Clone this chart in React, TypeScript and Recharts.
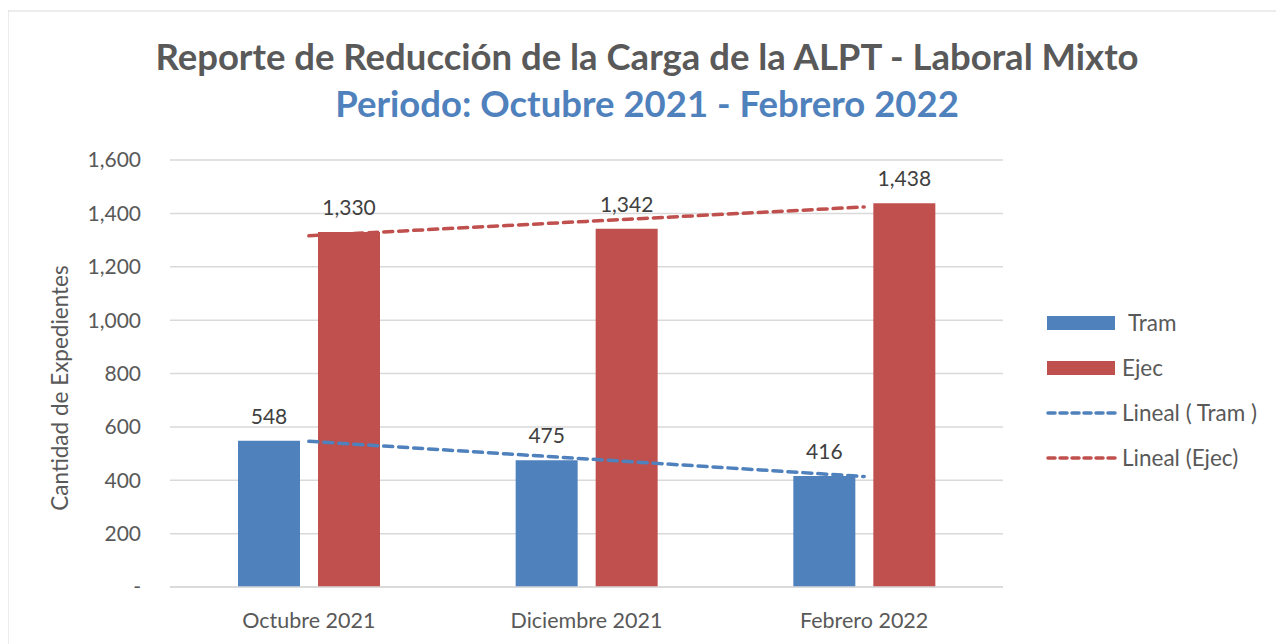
import React from "react";
import {
  ComposedChart,
  Bar,
  Line,
  XAxis,
  YAxis,
  CartesianGrid,
  LabelList,
} from "recharts";

const categories = ["Octubre 2021", "Diciembre 2021", "Febrero 2022"];
const tramValues = [548, 475, 416];
const ejecValues = [1330, 1342, 1438];
const tramTrend = [546, 480, 414];
const ejecTrend = [1316, 1370, 1424];
const yTicks = [0, 200, 400, 600, 800, 1000, 1200, 1400, 1600];

const titleText = "Reporte de Reducción de la Carga de la ALPT - Laboral Mixto";
const subtitleText = "Periodo: Octubre 2021 - Febrero 2022";

const BLUE = "#4F81BD";
const RED = "#C0504D";
const GRAY = "#595959";
const FONT = "Lato, 'Open Sans', sans-serif";

const data = categories.map((c, i) => ({
  name: c,
  Tram: tramValues[i],
  Ejec: ejecValues[i],
  tramTrend: tramTrend[i],
  ejecTrend: ejecTrend[i],
}));

const fmt = (v: number) => (v === 0 ? "-" : v.toLocaleString("en-US"));

const legendItems = [
  { label: "Tram", color: BLUE, type: "rect", indent: 6 },
  { label: "Ejec", color: RED, type: "rect", indent: 0 },
  { label: "Lineal ( Tram )", color: BLUE, type: "line", indent: 0 },
  { label: "Lineal (Ejec)", color: RED, type: "line", indent: 0 },
];

const LegendGroup = () => (
  <g transform="translate(1039, 315)">
    {legendItems.map((it, i) => {
      const y = i * 45;
      return (
        <g key={it.label}>
          {it.type === "rect" ? (
            <rect x={0} y={y - 7} width={68} height={14} fill={it.color} />
          ) : (
            <line
              x1={1}
              y1={y}
              x2={68}
              y2={y}
              stroke={it.color}
              strokeWidth={3.5}
              strokeDasharray="7 5"
              strokeLinecap="round"
            />
          )}
          <text
            x={75 + it.indent}
            y={y}
            dy="0.35em"
            fontSize={22.5}
            fill={GRAY}
            fontFamily={FONT}
          >
            {it.label}
          </text>
        </g>
      );
    })}
  </g>
);

export default function App() {
  return (
    <div style={{ position: "relative", width: 1276, height: 636, fontFamily: FONT }}>
      <ComposedChart
        width={1276}
        height={636}
        data={data}
        margin={{ top: 152, right: 281, bottom: 0, left: 0 }}
        barGap={18}
      >
        <rect x={0} y={3} width={1400} height={800} fill="none" stroke="#d9d9d9" strokeWidth={1} />
        <text
          x={639}
          y={49}
          dy="0.35em"
          textAnchor="middle"
          fontSize={36.5}
          fontWeight={700}
          fill={GRAY}
          fontFamily={FONT}
        >
          {titleText}
        </text>
        <text
          x={639}
          y={96}
          dy="0.35em"
          textAnchor="middle"
          fontSize={36.5}
          fontWeight={700}
          fill={BLUE}
          fontFamily={FONT}
        >
          {subtitleText}
        </text>
        <text
          x={52}
          y={380}
          dy="0.35em"
          textAnchor="middle"
          fontSize={22.5}
          fill={GRAY}
          fontFamily={FONT}
          transform="rotate(-90 52 380)"
        >
          Cantidad de Expedientes
        </text>
        <CartesianGrid vertical={false} stroke="#d9d9d9" strokeWidth={1.5} />
        <XAxis
          dataKey="name"
          height={57}
          tickLine={false}
          axisLine={{ stroke: "#d9d9d9", strokeWidth: 1.5 }}
          tick={{ fontSize: 21.5, fill: GRAY, fontFamily: FONT }}
          tickMargin={20}
        />
        <YAxis
          width={162}
          domain={[0, 1600]}
          ticks={yTicks}
          interval={0}
          tickFormatter={fmt}
          tickLine={false}
          axisLine={false}
          tickSize={0}
          tickMargin={29}
          tick={{ fontSize: 21, fill: GRAY, fontFamily: FONT }}
        />
        <Bar dataKey="Tram" fill={BLUE} barSize={62} isAnimationActive={false}>
          <LabelList
            dataKey="Tram"
            position="top"
            offset={17}
            formatter={(v: number) => v.toLocaleString("en-US")}
            style={{ fontSize: 21, fill: "#404040", fontFamily: FONT }}
          />
        </Bar>
        <Bar dataKey="Ejec" fill={RED} barSize={62} isAnimationActive={false}>
          <LabelList
            dataKey="Ejec"
            position="top"
            offset={17}
            formatter={(v: number) => v.toLocaleString("en-US")}
            style={{ fontSize: 21, fill: "#404040", fontFamily: FONT }}
          />
        </Bar>
        <Line
          dataKey="tramTrend"
          stroke={BLUE}
          strokeWidth={3.5}
          strokeDasharray="9 6"
          strokeLinecap="round"
          dot={false}
          activeDot={false}
          isAnimationActive={false}
        />
        <Line
          dataKey="ejecTrend"
          stroke={RED}
          strokeWidth={3.5}
          strokeDasharray="9 6"
          strokeLinecap="round"
          dot={false}
          activeDot={false}
          isAnimationActive={false}
        />
        <LegendGroup />
      </ComposedChart>
    </div>
  );
}
